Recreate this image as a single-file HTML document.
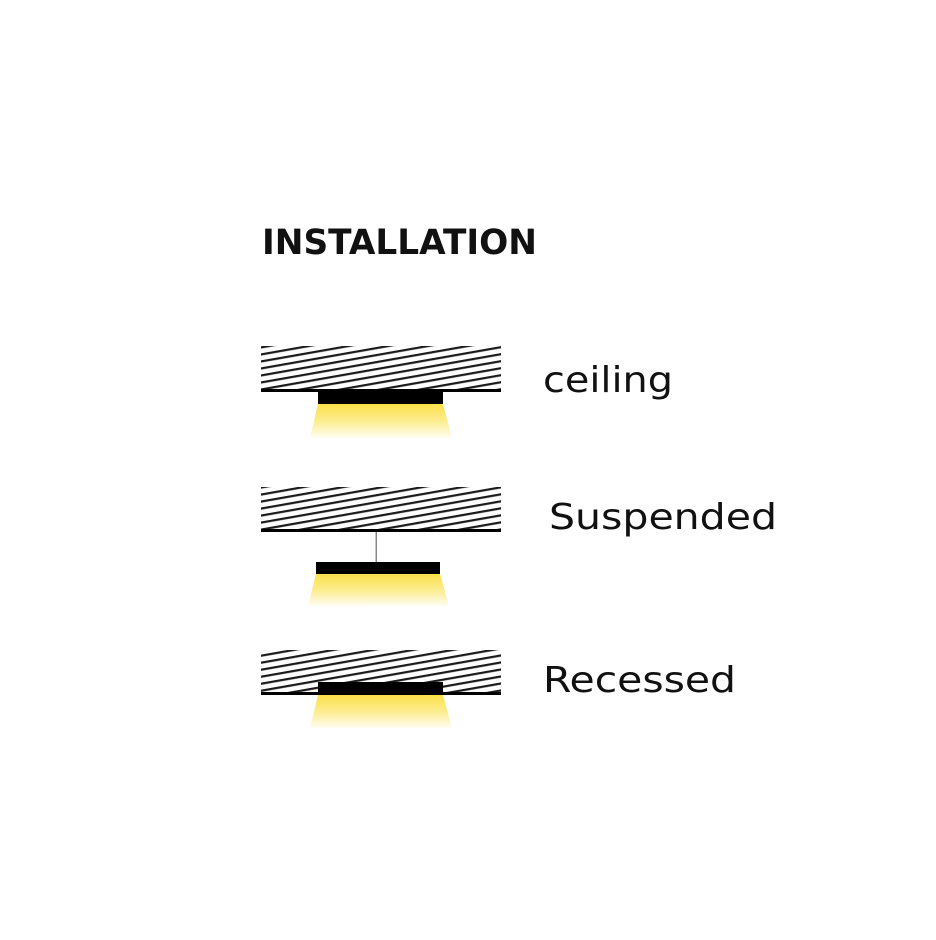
<!DOCTYPE html>
<html><head><style>
html,body{margin:0;padding:0;background:#fff;}
svg{display:block}
</style></head><body>
<svg width="936" height="940" xmlns="http://www.w3.org/2000/svg">
<defs>
<pattern id="h" patternUnits="userSpaceOnUse" width="20" height="6.9" patternTransform="rotate(-10)">
<rect x="0" y="0" width="20" height="2.2" fill="#1a1a1a"/>
</pattern>
<linearGradient id="g" x1="0" y1="0" x2="0" y2="1">
<stop offset="0" stop-color="#fbe14a"/>
<stop offset="0.5" stop-color="#fcec8e"/>
<stop offset="1" stop-color="#fffdf3"/>
</linearGradient>
</defs>
<text x="262" y="254" font-family="'DejaVu Sans','Liberation Sans',sans-serif" font-weight="bold" font-size="35" textLength="275" lengthAdjust="spacingAndGlyphs" fill="#111">INSTALLATION</text>

<!-- ceiling -->
<rect x="261" y="346" width="240" height="44" fill="url(#h)"/>
<rect x="261" y="389" width="240" height="3" fill="#000"/>
<rect x="318" y="391" width="125" height="13" fill="#000"/>
<polygon points="318,404 443,404 452,438 310,438" fill="url(#g)"/>
<text x="543" y="392" font-family="'DejaVu Sans','Liberation Sans',sans-serif" font-size="36" textLength="130" lengthAdjust="spacingAndGlyphs" fill="#111">ceiling</text>

<!-- suspended -->
<rect x="261" y="487" width="240" height="43" fill="url(#h)"/>
<rect x="261" y="529" width="240" height="3" fill="#000"/>
<rect x="375.5" y="532" width="1.5" height="30" fill="#888"/>
<rect x="316" y="562" width="124" height="12" fill="#000"/>
<polygon points="316,574 440,574 449,606 308,606" fill="url(#g)"/>
<text x="549" y="529" font-family="'DejaVu Sans','Liberation Sans',sans-serif" font-size="36" textLength="228" lengthAdjust="spacingAndGlyphs" fill="#111">Suspended</text>

<!-- recessed -->
<rect x="261" y="650" width="240" height="44" fill="url(#h)"/>
<rect x="261" y="692" width="240" height="3" fill="#000"/>
<rect x="318" y="682" width="125" height="13" fill="#000"/>
<polygon points="318,695 443,695 452,728 310,728" fill="url(#g)"/>
<text x="543" y="692" font-family="'DejaVu Sans','Liberation Sans',sans-serif" font-size="36" textLength="193" lengthAdjust="spacingAndGlyphs" fill="#111">Recessed</text>
</svg>
</body></html>
